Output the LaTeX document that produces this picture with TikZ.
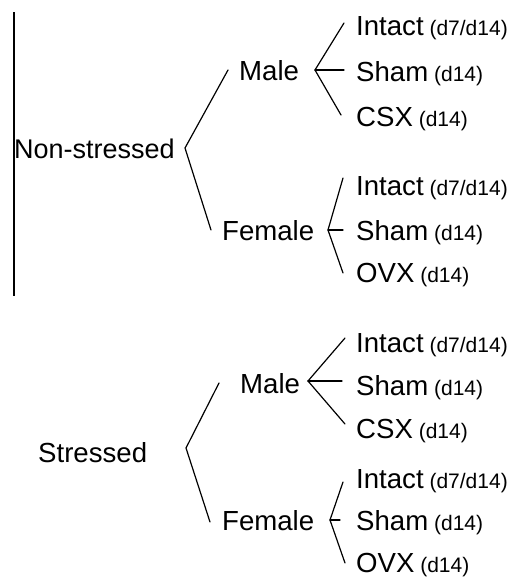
\documentclass[tikz,border=0pt]{standalone}
\usepackage{fontspec}
\setmainfont{Liberation Sans}
\newcommand{\smalltag}[1]{{\fontsize{21}{24}\selectfont\ #1}}
\tikzset{
  big/.style={font=\fontsize{27.6}{30}\selectfont, inner sep=0pt, anchor=base west},
  branch/.style={line width=1.2pt, line cap=round},
}
\begin{document}
\begin{tikzpicture}[x=1pt,y=-1pt]
\useasboundingbox (0,0) rectangle (515,579);
% left rule
\coordinate (rt) at (14,12);
\coordinate (rb) at (14,296);
\draw[line width=1.2pt] (rt) -- (rb);

% ---------- Non-stressed ----------
\node[big, font=\fontsize{27}{30}\selectfont] (ns) at (14,158) {Non-stressed};
\node[big] (m1) at (239,80) {Male};
\node[big] (f1) at (222,240) {Female};
\node[big] (m1a) at (356,35) {Intact\smalltag{(d7/d14)}};
\node[big] (m1b) at (356,81) {Sham\smalltag{(d14)}};
\node[big] (m1c) at (356,126) {CSX\smalltag{(d14)}};
\node[big] (f1a) at (356,195) {Intact\smalltag{(d7/d14)}};
\node[big] (f1b) at (356,240) {Sham\smalltag{(d14)}};
\node[big] (f1c) at (356,282) {OVX\smalltag{(d14)}};

\coordinate (v1) at (185,148);
\coordinate (v1t) at (228,70);
\coordinate (v1b) at (211,230);
\draw[branch] (v1t) -- (v1) -- (v1b);

\coordinate (vm1) at (315,70);
\coordinate (vm1a) at (344,23);
\coordinate (vm1b) at (344,70);
\coordinate (vm1c) at (341,115);
\draw[branch] (vm1a) -- (vm1) -- (vm1c);
\draw[branch] (vm1) -- (vm1b);

\coordinate (vf1) at (328,230);
\coordinate (vf1a) at (343,178);
\coordinate (vf1b) at (343,230);
\coordinate (vf1c) at (343,273);
\draw[branch] (vf1a) -- (vf1) -- (vf1c);
\draw[branch] (vf1) -- (vf1b);

% ---------- Stressed ----------
\node[big] (st) at (38,462) {Stressed};
\node[big] (m2) at (240,393) {Male};
\node[big] (f2) at (222,530) {Female};
\node[big] (m2a) at (356,352) {Intact\smalltag{(d7/d14)}};
\node[big] (m2b) at (356,395) {Sham\smalltag{(d14)}};
\node[big] (m2c) at (356,438) {CSX\smalltag{(d14)}};
\node[big] (f2a) at (356,488) {Intact\smalltag{(d7/d14)}};
\node[big] (f2b) at (356,530) {Sham\smalltag{(d14)}};
\node[big] (f2c) at (356,572) {OVX\smalltag{(d14)}};

\coordinate (v2) at (186,448);
\coordinate (v2t) at (219,383);
\coordinate (v2b) at (210,522);
\draw[branch] (v2t) -- (v2) -- (v2b);

\coordinate (vm2) at (308,381);
\coordinate (vm2a) at (345,338);
\coordinate (vm2b) at (342,381);
\coordinate (vm2c) at (345,424);
\draw[branch] (vm2a) -- (vm2) -- (vm2c);
\draw[branch] (vm2) -- (vm2b);

\coordinate (vf2) at (330,520);
\coordinate (vf2a) at (343,482);
\coordinate (vf2b) at (340,520);
\coordinate (vf2c) at (345,563);
\draw[branch] (vf2a) -- (vf2) -- (vf2c);
\draw[branch] (vf2) -- (vf2b);
\end{tikzpicture}
\end{document}
